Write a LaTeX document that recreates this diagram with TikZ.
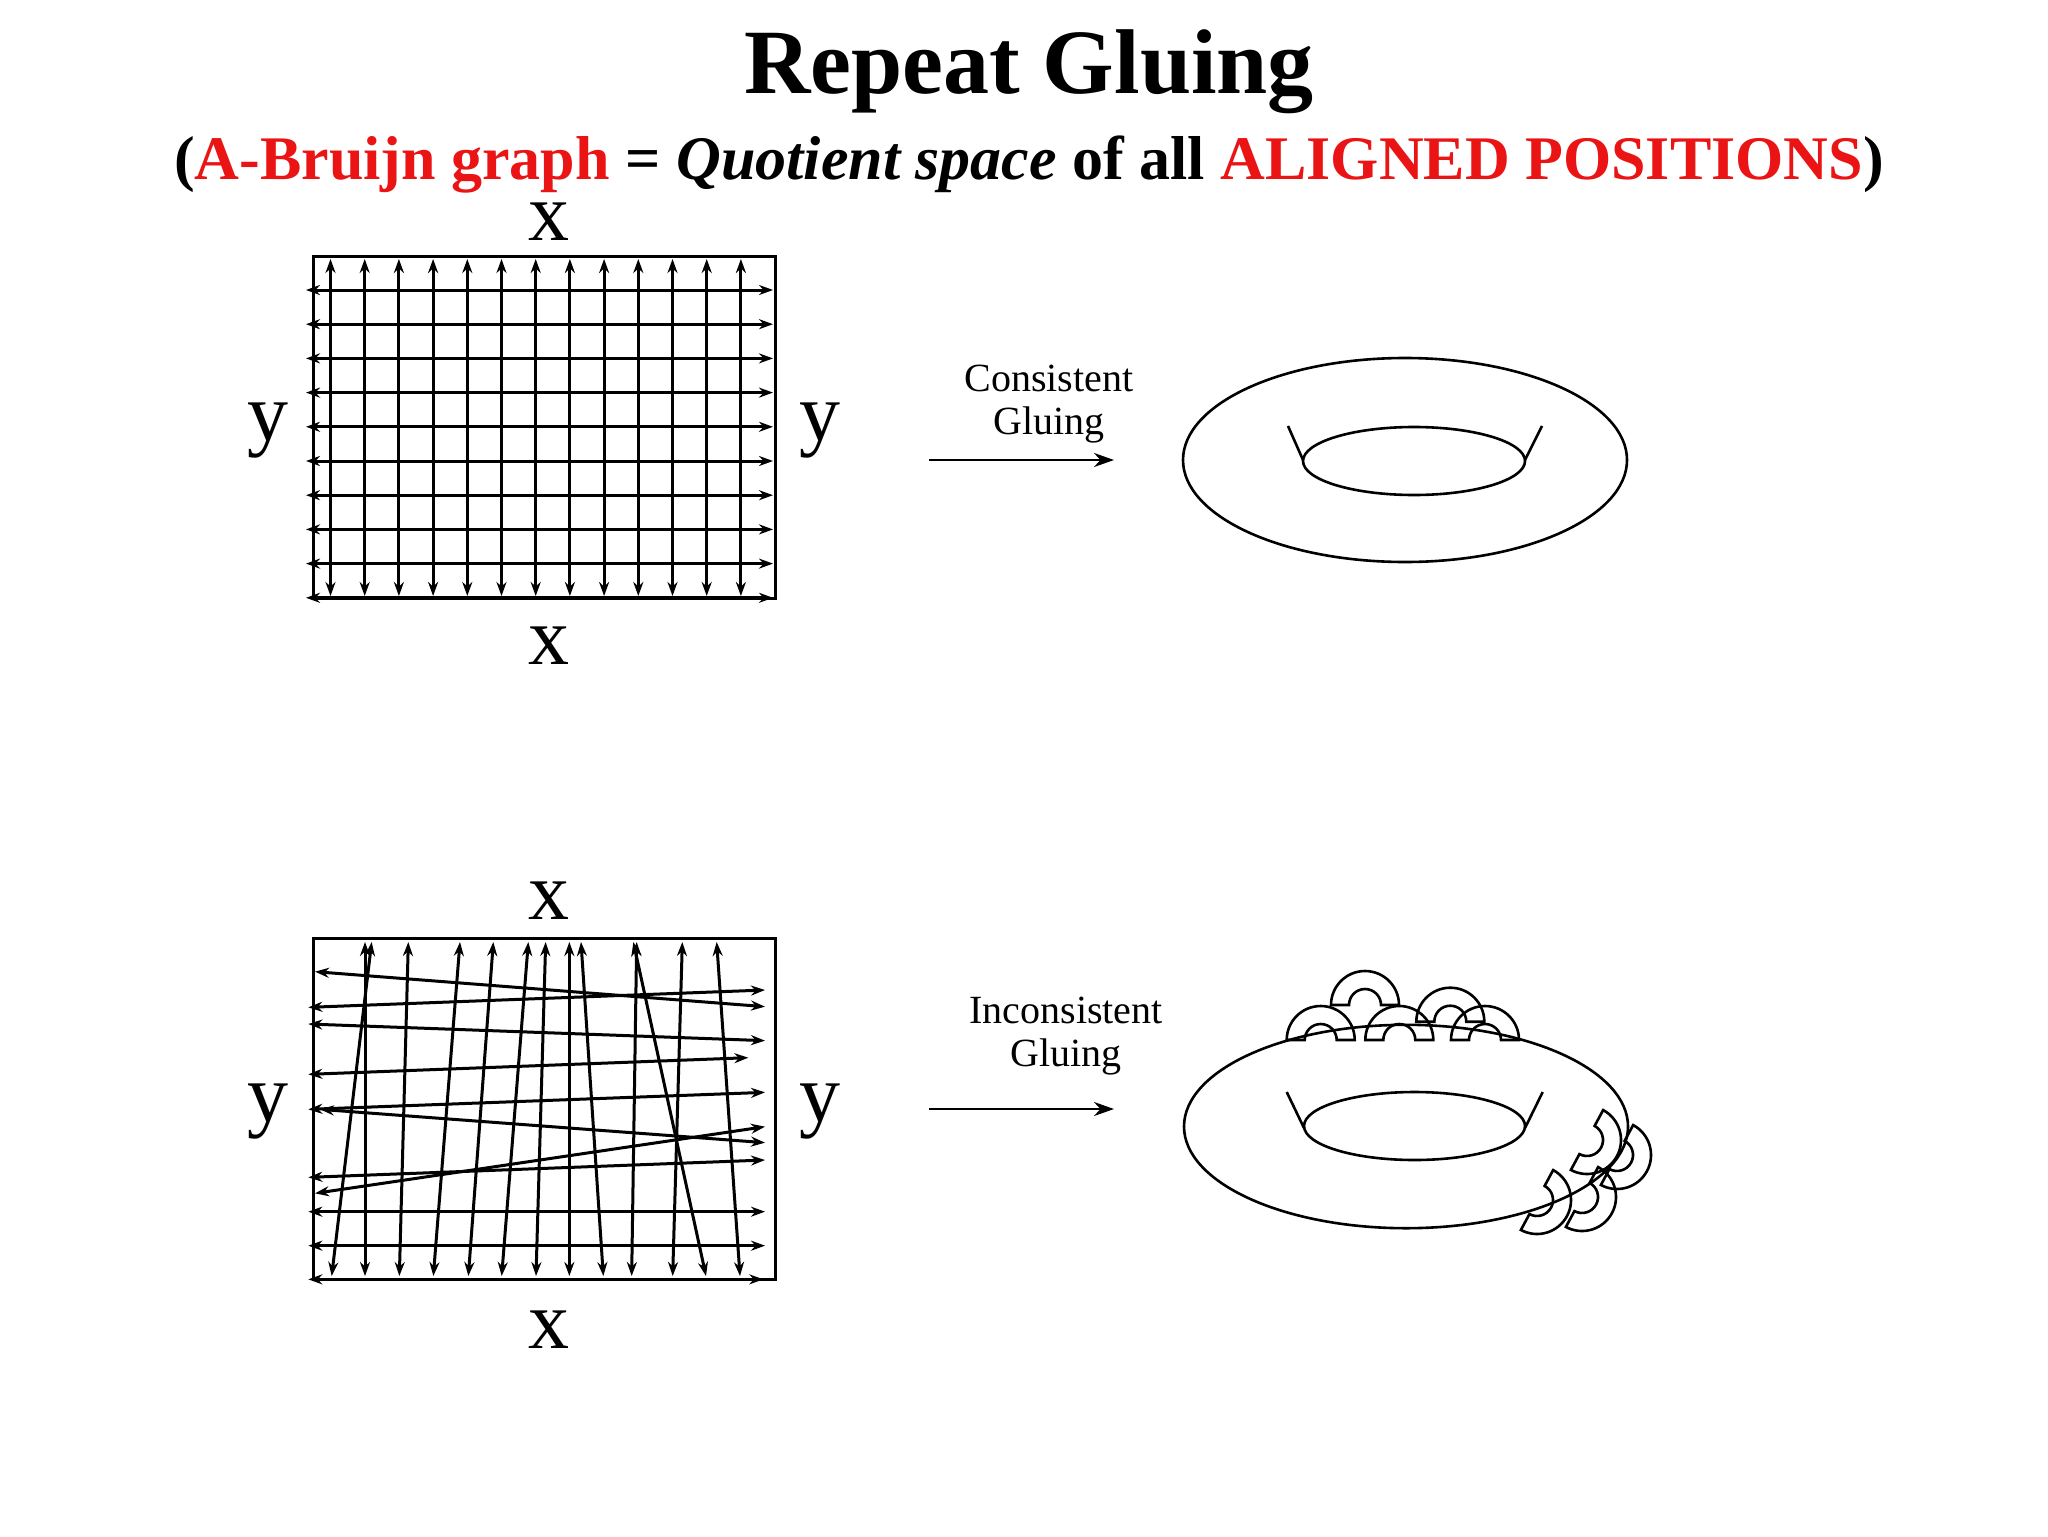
\documentclass[tikz,border=0pt]{standalone}
\usepackage{fontspec}
\setmainfont{Liberation Serif}
\usetikzlibrary{arrows.meta}
\definecolor{tred}{RGB}{235,20,20}
\tikzset{
 gl/.style={line width=1.5pt,{Stealth[length=7pt,width=5pt]}-{Stealth[length=7pt,width=5pt]}},
 box/.style={line width=1.5pt},
 tor/.style={line width=1.3pt},
 lab/.style={font=\fontsize{41}{41}\selectfont},
 captext/.style={font=\fontsize{20}{22}\selectfont},
 gar/.style={line width=1.4pt,-{Stealth[length=10pt,width=7pt]}}
}
\newcommand{\myring}[4]{\draw[tor] ([shift={(#1,#2)}]#3:34) arc[start angle=#3,end angle=#4,radius=34] -- ([shift={(#1,#2)}]#4:16) arc[start angle=#4,end angle=#3,radius=16] -- cycle;}
\newcommand{\sring}[4]{\draw[tor] ([shift={(#1,#2)}]#3:34) arc[start angle=#3,end angle=#4,radius=34] -- ([shift={(#1,#2)}]#4:16) arc[start angle=#4,end angle=#3,radius=16] -- cycle;}
\begin{document}
\begin{tikzpicture}[x=0.5pt,y=-0.5pt]
\useasboundingbox[fill=white] (0,0) rectangle (2048,1536);
\node[font=\bfseries\fontsize{46}{46}\selectfont] (title) at (1029,72) {Repeat Gluing};
\node[font=\bfseries\fontsize{31}{31}\selectfont] (sub) at (1029,165) {(\textcolor{tred}{A-Bruijn graph} = \textit{Quotient space} of all \textcolor{tred}{ALIGNED POSITIONS})};
% top grid
\draw[box] (313,256) rectangle (775,598);
\foreach \i in {0,...,12} \draw[gl] (330.5+\i*34.2,259) -- (330.5+\i*34.2,596);
\foreach \j in {0,...,9} \draw[gl] (306,290+\j*34.2) -- (773,290+\j*34.2);
\node[lab] (xt1) at (549,222) {x};
\node[lab] (xb1) at (549,646) {x};
\node[lab] (yl1) at (268,431) {y};
\node[lab] (yr1) at (820,431) {y};
% bottom grid
\draw[box] (313,938) rectangle (775,1279);
\foreach \a/\b in {215/95,195/195,325/298,480/400,580/505,685/605,737/708,808/808,843/910,1010/995,1000/1218,1147/1118,1250/1320}
  \draw[gl] (300+\a/3,942) -- (300+\b/3,1276);
\foreach \lx/\ly/\rx/\ry in {45/155/1395/260,25/262/1395/210,25/312/1395/362,25/463/1345/413,25/568/1395/517,60/568/1395/668,45/820/1395/620,25/772/1395/720,25/875/1395/875,25/977/1395/977,25/1078/1390/1078}
  \draw[gl] (300+\lx/3,920+\ly/3) -- (300+\rx/3,920+\ry/3);
\node[lab] (xt2) at (549,901) {x};
\node[lab] (xb2) at (549,1330) {x};
\node[lab] (yl2) at (268,1112) {y};
\node[lab] (yr2) at (820,1112) {y};
% arrows
\coordinate (a1) at (929,460); \coordinate (b1) at (1114,460);
\draw[gar] (a1) -- (b1);
\node[captext] (c1) at (1049,378) {Consistent};
\node[captext] (g1) at (1049,425) {Gluing};
\coordinate (a2) at (929,1109); \coordinate (b2) at (1114,1109);
\draw[gar] (a2) -- (b2);
\node[captext] (c2) at (1066,1010) {Inconsistent};
\node[captext] (g2) at (1066,1057) {Gluing};
% torus 1
\draw[tor] (1405,460) ellipse[x radius=222,y radius=102];
\draw[tor] (1414,461) ellipse[x radius=111,y radius=34];
\draw[tor] (1288,426) -- (1303,460);
\draw[tor] (1542,426) -- (1525,460);
% torus 2
\draw[tor] (1406,1126.5) ellipse[x radius=222,y radius=101.7];
\draw[tor] (1414.5,1126) ellipse[x radius=110.5,y radius=34];
\draw[tor] (1286.7,1092) -- (1304,1128);
\draw[tor] (1542.7,1092) -- (1525,1128);
\myring{1320.7}{1040}{180}{360}
\myring{1365}{1005}{180}{360}
\myring{1399.3}{1040}{180}{360}
\myring{1450.3}{1021.7}{180}{360}
\myring{1485}{1040}{180}{360}
\sring{1587}{1140}{-61.7}{118.3}
\sring{1617}{1155}{-61.7}{118.3}
\sring{1537}{1200}{-61.7}{118.3}
\sring{1582}{1197}{-61.7}{118.3}
\end{tikzpicture}
\end{document}
